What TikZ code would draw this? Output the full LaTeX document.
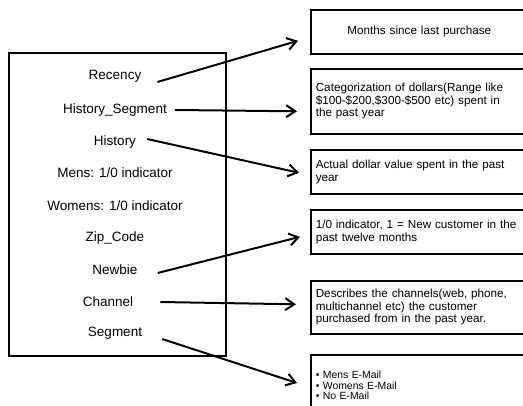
\documentclass[tikz,border=0pt]{standalone}
\usepackage{fontspec}
\setmainfont{Liberation Sans}
\usetikzlibrary{arrows.meta}

\tikzset{
  field/.style={inner sep=0pt, font=\fontsize{13.5}{16}\selectfont},
  descbox/.style={draw, line width=1.6pt, anchor=north west, text width=207pt,
    inner xsep=5pt, align=left, font=\fontsize{11.7}{12.6}\selectfont},
  link/.style={line width=2pt, -{Straight Barb[length=9pt,width=12pt]}}
}

\begin{document}
\begin{tikzpicture}[x=1pt,y=-1pt]

        \useasboundingbox (0,0) rectangle (523,406);

        % variables of the data set
        \node[draw, line width=1.6pt, anchor=north west, minimum width=217pt,
              minimum height=303pt] (fields) at (8,52) {};
        \node[field] (recency) at (115,76) {Recency};
        \node[field] (histseg) at (115,110) {History\_Segment};
        \node[field] (history) at (115,142) {History};
        \node[field] (mens) at (115,173) {Mens: 1/0 indicator};
        \node[field] (womens) at (115,206) {Womens: 1/0 indicator};
        \node[field] (zipcode) at (115,238) {Zip\_Code};
        \node[field] (newbie) at (115,270) {Newbie};
        \node[field] (channel) at (108,302) {Channel};
        \node[field] (segment) at (115,333) {Segment};

        % descriptions
        \node[descbox, align=center, minimum height=44pt] (months) at (310,9)
            {Months since last purchase};
        \node[descbox, minimum height=65pt] (categ) at (310,68)
            {Categorization of dollars(Range like\\ \$100-\$200,\$300-\$500 etc) spent in\\ the past year};
        \node[descbox, minimum height=44pt] (dollar) at (310,149)
            {Actual dollar value spent in the past\\ year};
        \node[descbox, minimum height=44pt] (newcust) at (310,209)
            {1/0 indicator, 1 = New customer in the\\ past twelve months};
        \node[descbox, minimum height=53pt] (channels) at (310,280)
            {Describes the channels(web, phone,\\ multichannel etc) the customer\\ purchased from in the past year.};
        \node[descbox, minimum height=61pt, font=\fontsize{10.4}{10.6}\selectfont] (emails) at (310,354)
            {• Mens E-Mail\\ • Womens E-Mail\\ • No E-Mail};

        % links
        \draw[link] ([shift={(16,6)}]recency.east) -- ([shift={(-12,9)}]months.west);
        \draw[link] ([shift={(8,0)}]histseg.east) -- ([shift={(-13,10)}]categ.west);
        \draw[link] ([shift={(11,-3)}]history.east) -- ([shift={(-11,1)}]dollar.west);
        \draw[link] ([shift={(20,3)}]newbie.east) -- ([shift={(-10,5)}]newcust.west);
        \draw[link] ([shift={(27,0)}]channel.east) -- ([shift={(-14,-3)}]channels.west);
        \draw[link] ([shift={(20,6)}]segment.east) -- ([shift={(-13,29)}]emails.north west);
    \end{tikzpicture}
\end{document}
